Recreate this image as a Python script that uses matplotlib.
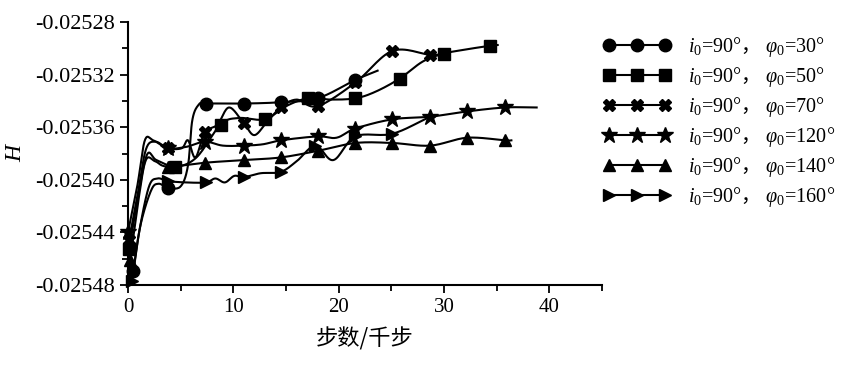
import numpy as np
import matplotlib
matplotlib.use('Agg')
import matplotlib.pyplot as plt
from matplotlib.lines import Line2D
from matplotlib.ticker import MultipleLocator, FormatStrFormatter

plt.rcParams['font.family'] = ['Liberation Serif', 'Noto Sans CJK SC']
plt.rcParams['mathtext.fontset'] = 'custom'
plt.rcParams['mathtext.rm'] = 'Liberation Serif'
plt.rcParams['mathtext.it'] = 'Liberation Serif:italic'
plt.rcParams['mathtext.sf'] = 'Noto Sans CJK SC'
plt.rcParams['axes.unicode_minus'] = False

# 读图得到的数据 (步数/千步, H)
x30 = [0.5, 1.2, 2.2, 2.9, 3.8, 5.0, 5.7, 6.1, 6.7, 7.4, 11.0, 14.5, 18.0, 21.6, 23.7]
h30 = [-0.025469, -0.025434, -0.025408, -0.025403, -0.025406, -0.025405, -0.025389, -0.025355,
       -0.025343, -0.025342, -0.025342, -0.025341, -0.025338, -0.025324, -0.025317]
m30 = [0, 4, 9, 10, 11, 12, 13]

x50 = [0.1, 0.9, 1.8, 2.7, 4.5, 6.5, 8.8, 10.5, 13.0, 15.0, 17.1, 19.3, 21.6, 23.5, 25.8,
       28.0, 30.0, 32.0, 34.4, 35.1]
h50 = [-0.025453, -0.025415, -0.025381, -0.025385, -0.025390, -0.025383, -0.025358, -0.025353,
       -0.025354, -0.025344, -0.025338, -0.025339, -0.025338, -0.025333, -0.025323, -0.025310,
       -0.025304, -0.025301, -0.025298, -0.0252975]
m50 = [0, 4, 6, 8, 10, 12, 14, 16, 18]

x70 = [0.1, 0.9, 1.7, 2.6, 3.8, 5.1, 5.7, 6.4, 7.3, 8.5, 9.6, 11.0, 12.0, 13.2, 14.5, 16.0,
       18.0, 21.6, 25.1, 28.7, 30.0]
h70 = [-0.025446, -0.025412, -0.025377, -0.025371, -0.025376, -0.025376, -0.025370, -0.025383,
       -0.025364, -0.025358, -0.025345, -0.025357, -0.025366, -0.025356, -0.025345, -0.025339,
       -0.025344, -0.025326, -0.025302, -0.025305, -0.025304]
m70 = [0, 4, 8, 11, 14, 16, 17, 18, 19]

x120 = [0.0, 0.9, 1.6, 2.4, 3.8, 5.5, 7.3, 9.0, 11.0, 12.8, 14.5, 18.0, 19.8, 21.6, 25.1,
        28.7, 32.2, 35.8, 38.8]
h120 = [-0.025440, -0.025404, -0.025370, -0.025370, -0.025376, -0.025375, -0.025371, -0.025374,
        -0.025374, -0.025373, -0.025370, -0.025367, -0.025368, -0.025361, -0.025354, -0.025352,
        -0.025348, -0.025345, -0.025345]
m120 = [0, 4, 6, 8, 10, 11, 13, 14, 15, 16, 17]

x140 = [0.2, 1.0, 1.7, 2.6, 3.8, 7.3, 11.0, 14.5, 18.0, 21.6, 25.1, 28.7, 32.2, 35.8, 36.4]
h140 = [-0.025461, -0.025415, -0.025385, -0.025386, -0.025390, -0.025387, -0.025385, -0.025383,
        -0.025378, -0.025372, -0.025372, -0.025374, -0.025368, -0.025370, -0.025370]
m140 = [0, 4, 5, 6, 7, 8, 9, 10, 11, 12, 13]

x160 = [0.4, 1.1, 2.0, 2.8, 3.8, 5.5, 7.4, 8.3, 9.2, 10.1, 11.0, 12.6, 14.5, 16.0, 17.8,
        19.5, 21.6, 25.1, 28.7]
h160 = [-0.025477, -0.025438, -0.025405, -0.025399, -0.025401, -0.025402, -0.025402, -0.025399,
        -0.025402, -0.025397, -0.025398, -0.025395, -0.025394, -0.025386, -0.025374, -0.025385,
        -0.025367, -0.025365, -0.025352]
m160 = [0, 4, 6, 10, 12, 14, 16, 17]

labels = [r'$i_0$=90°$\mathsf{，}$ $\varphi_0$=30°',
          r'$i_0$=90°$\mathsf{，}$ $\varphi_0$=50°',
          r'$i_0$=90°$\mathsf{，}$ $\varphi_0$=70°',
          r'$i_0$=90°$\mathsf{，}$ $\varphi_0$=120°',
          r'$i_0$=90°$\mathsf{，}$ $\varphi_0$=140°',
          r'$i_0$=90°$\mathsf{，}$ $\varphi_0$=160°']
markers = ['o', 's', 'X', '*', '^', '>']
msizes = [9, 8.5, 9, 12, 9, 9]

series = [(x30, h30, m30), (x50, h50, m50), (x70, h70, m70),
          (x120, h120, m120), (x140, h140, m140), (x160, h160, m160)]


def smooth(xs, ys, n=16):
    # Catmull-Rom 平滑连线
    p = np.column_stack([xs, ys]).astype(float)
    p = np.vstack([2 * p[0] - p[1], p, 2 * p[-1] - p[-2]])
    t = np.linspace(0, 1, n, endpoint=False)[:, None]
    out = []
    for i in range(1, len(p) - 2):
        p0, p1, p2, p3 = p[i - 1], p[i], p[i + 1], p[i + 2]
        seg = 0.5 * ((2 * p1) + (-p0 + p2) * t + (2 * p0 - 5 * p1 + 4 * p2 - p3) * t ** 2
                     + (-p0 + 3 * p1 - 3 * p2 + p3) * t ** 3)
        out.append(seg)
    out.append(p[-2][None, :])
    out = np.vstack(out)
    return out[:, 0], out[:, 1]


fig = plt.figure(figsize=(8.47, 3.65), dpi=100)
ax = fig.add_axes([0.1511, 0.2192, 0.5596, 0.7205])

handles = []
for (xs, hs, mi), mk, ms in zip(series, markers, msizes):
    sx, sy = smooth(xs, hs)
    ax.plot(sx, sy, color='black', lw=1.5, clip_on=False)
    ax.plot([xs[i] for i in mi], [hs[i] for i in mi], ls='none', marker=mk, ms=ms,
            color='black', clip_on=False)
    handles.append(Line2D([], [], color='black', lw=1.5, marker=mk, ms=ms))

ax.set_xlim(0, 45)
ax.set_ylim(-0.02548, -0.02528)
ax.xaxis.set_major_locator(MultipleLocator(10))
ax.xaxis.set_minor_locator(MultipleLocator(5))
ax.yaxis.set_major_locator(MultipleLocator(0.00004))
ax.yaxis.set_minor_locator(MultipleLocator(0.00002))
ax.yaxis.set_major_formatter(FormatStrFormatter('%.5f'))
ax.spines['top'].set_visible(False)
ax.spines['right'].set_visible(False)
ax.spines['left'].set_linewidth(1.5)
ax.spines['bottom'].set_linewidth(1.5)
ax.tick_params(which='major', direction='out', length=6, width=1.3, labelsize=16)
ax.tick_params(axis='x', which='major', labelsize=15)
ax.tick_params(which='minor', direction='out', length=4, width=1.3)

ax.set_xlabel(u'步数/千步', fontsize=16, family=['Noto Sans CJK SC'], labelpad=7)
ax.set_ylabel('H', fontsize=17, style='italic', labelpad=6)

fig.legend(handles, labels, loc='upper left', bbox_to_anchor=(603 / 847, 1 - 35 / 365),
           frameon=False, numpoints=3, fontsize=14.5, handlelength=3.4, handletextpad=0.8,
           labelspacing=0.3, borderpad=0, borderaxespad=0)

plt.savefig('out.png', dpi=100)
